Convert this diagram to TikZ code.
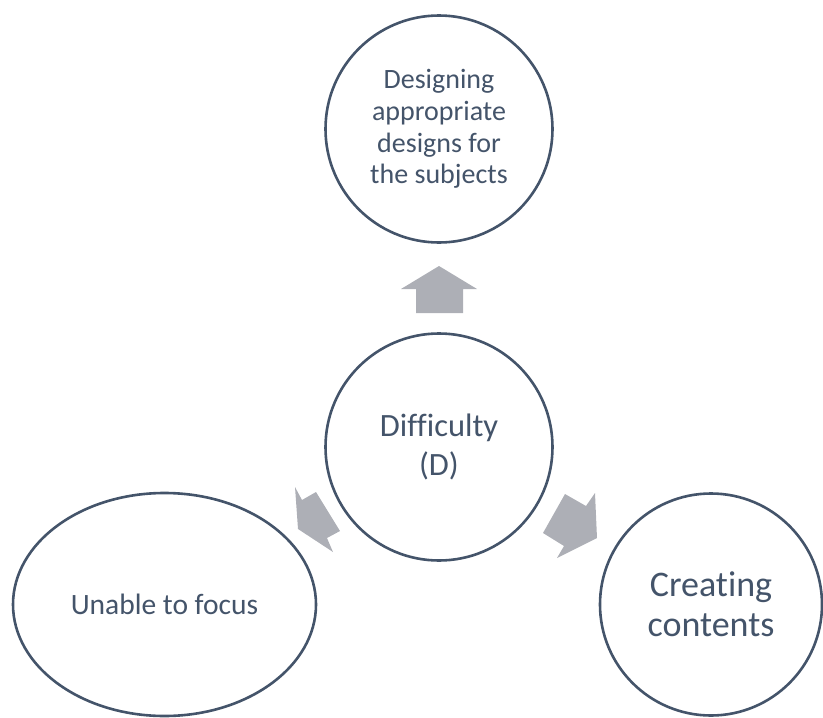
\documentclass[tikz,border=0pt]{standalone}
\usepackage{fontspec}
\setmainfont[Ligatures=NoCommon]{Carlito}
\usetikzlibrary{shapes.geometric}
\definecolor{outl}{HTML}{44546A}
\definecolor{arrfill}{HTML}{ADAFB6}
\begin{document}
\begin{tikzpicture}[x=1pt,y=-1pt,
  bubble/.style={draw=outl, line width=2.6pt, fill=white, text=outl, align=center, inner sep=0pt},
  blockarrow/.style={fill=arrfill, draw=none}]
\useasboundingbox (0,0) rectangle (823,718);
\node[bubble, circle, minimum size=227pt, font=\fontsize{28}{31.8}\selectfont] (design) at (439,129) {Designing\\appropriate\\designs for\\the subjects};
\node[bubble, circle, minimum size=227pt, font=\fontsize{32.5}{39}\selectfont] (diff) at (439,447) {Difficulty\\(D)};
\node[bubble, ellipse, minimum width=303pt, minimum height=223pt, font=\fontsize{29.5}{34}\selectfont] (focus) at (164.5,604.5) {Unable to focus};
\node[bubble, circle, minimum size=222pt, font=\fontsize{36}{40}\selectfont] (create) at (711,604.5) {Creating\\contents};
% up arrow
\fill[blockarrow] (439,266) -- (477,289) -- (463,289) -- (463,313) -- (416,313) -- (416,289) -- (401,289) -- cycle;
% left arrow
\fill[blockarrow] (295,487) -- (302,500) -- (316,492) -- (340,531) -- (327,538) -- (333,552) -- (298,529) -- cycle;
% right arrow
\fill[blockarrow] (595,493) -- (586,506) -- (565,494) -- (543,533) -- (564,546) -- (557,558) -- (597,538) -- cycle;
\end{tikzpicture}
\end{document}
